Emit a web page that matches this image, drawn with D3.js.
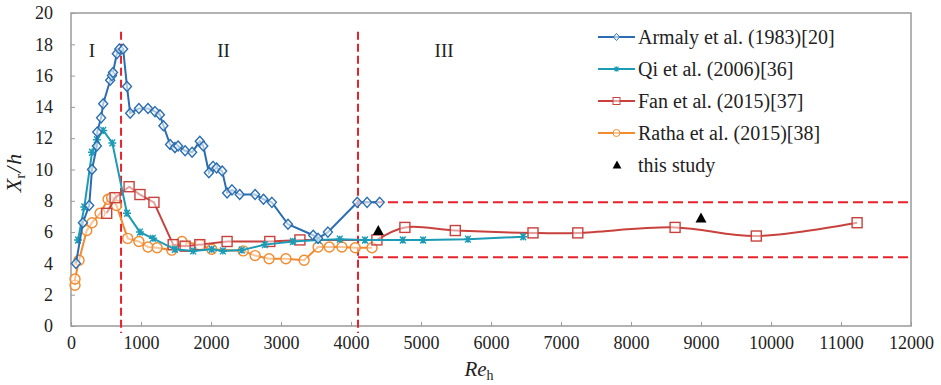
<!DOCTYPE html>
<html>
<head>
<meta charset="utf-8">
<script src="https://cdn.jsdelivr.net/npm/d3@7"></script>
<style>
  body { margin: 0; background: #fff; }
  text { font-family: "Liberation Serif", "Times New Roman", serif; fill: #222; }
</style>
</head>
<body>
<div id="chart"></div>
<script>
// --- data ---
const armalyRe = [71, 170, 260, 300, 370, 375, 430, 460, 560, 585, 600, 655, 690, 745, 800, 845, 970, 1100, 1200, 1270, 1320, 1415, 1485, 1530, 1630, 1730, 1840, 1890, 1970, 2030, 2080, 2160, 2230, 2300, 2410, 2630, 2750, 2870, 3100, 3460, 3530, 3670, 4090, 4230, 4410];
const armalyY = [4.0, 6.6, 7.7, 10.0, 11.5, 12.4, 13.3, 14.2, 15.7, 16.0, 16.2, 17.4, 17.7, 17.7, 15.3, 13.6, 13.9, 13.9, 13.7, 13.5, 12.8, 11.6, 11.4, 11.5, 11.2, 11.1, 11.8, 11.5, 9.8, 10.2, 10.1, 9.9, 8.5, 8.7, 8.4, 8.4, 8.1, 7.9, 6.5, 5.8, 5.6, 6.0, 7.9, 7.9, 7.9];

const qiRe = [100, 190, 300, 370, 460, 590, 800, 985, 1170, 1485, 1745, 2010, 2170, 2440, 2770, 3170, 3530, 3840, 4200, 4740, 5030, 5670, 6460];
const qiY = [5.5, 7.6, 11.1, 11.9, 12.5, 11.7, 7.2, 6.0, 5.6, 4.9, 4.8, 4.9, 4.8, 4.85, 5.2, 5.4, 5.5, 5.55, 5.5, 5.5, 5.5, 5.55, 5.7];

const fanRe = [510, 630, 830, 985, 1185, 1460, 1630, 1840, 2230, 2840, 3270, 4370, 4770, 5490, 6600, 7240, 8630, 9790, 11230];
const fanY = [7.2, 8.2, 8.9, 8.4, 7.9, 5.2, 5.1, 5.2, 5.4, 5.4, 5.5, 5.5, 6.3, 6.1, 5.95, 5.95, 6.3, 5.75, 6.6];

const rathaRe = [57, 57, 115, 225, 300, 415, 530, 580, 650, 810, 970, 1100, 1230, 1440, 1585, 1840, 2010, 2460, 2630, 2830, 3070, 3330, 3530, 3690, 3870, 4060, 4300];
const rathaY = [2.6, 3.0, 4.2, 6.1, 6.6, 7.2, 8.1, 8.2, 7.7, 5.6, 5.4, 5.05, 5.0, 4.85, 5.4, 5.2, 4.9, 4.8, 4.5, 4.3, 4.3, 4.2, 5.05, 5.05, 5.05, 5.0, 5.0];

const studyRe = [4390, 9000];
const studyY = [6.1, 6.9];

const regionBounds = [715, 4100];   // vertical dashed lines
const bandLevels = [7.9, 4.4];      // horizontal dashed lines (Re > 4100)
const regionLabels = ["I", "II", "III"];
const regionLabelRe = [300, 2180, 5330];

const xTicks = d3.range(0, 12001, 1000);
const yTicks = d3.range(0, 21, 2);

const seriesNames = ["Armaly et al. (1983)[20]", "Qi et al. (2006)[36]", "Fan et al. (2015)[37]", "Ratha et al. (2015)[38]", "this study"];
const seriesColors = ["#2a6db0", "#1b9bb5", "#c8413d", "#f28a2e", "#000"];

const zip = (xs, ys) => xs.map((x, i) => ({ x: x, y: ys[i] }));

class ReattachChart {
  constructor(parentElement) {
    this.parentElement = parentElement;
    this.initVis();
  }

  initVis() {
    let vis = this;
    vis.margin = { top: 13, right: 30, bottom: 59, left: 71 };
    vis.width = 941 - vis.margin.left - vis.margin.right;
    vis.height = 385 - vis.margin.top - vis.margin.bottom;

    vis.svg = d3.select("#" + vis.parentElement)
      .append("svg")
      .attr("width", 941)
      .attr("height", 385)
      .append("g")
      .attr("transform", `translate(${vis.margin.left},${vis.margin.top})`);

    vis.x = d3.scaleLinear().domain([0, 12000]).range([0, vis.width]);
    vis.y = d3.scaleLinear().domain([0, 20]).range([vis.height, 0]);

    // frame
    vis.svg.append("rect")
      .attr("width", vis.width)
      .attr("height", vis.height)
      .attr("fill", "none")
      .attr("stroke", "#9a9a9a")
      .attr("stroke-width", 1.5);

    // axes (inward ticks)
    const xAxis = d3.axisBottom(vis.x).tickValues(xTicks).tickSize(-4).tickPadding(10).tickFormat(d3.format("d"));
    const yAxis = d3.axisLeft(vis.y).tickValues(yTicks).tickSize(-4).tickPadding(18);

    vis.svg.append("g")
      .attr("transform", `translate(0,${vis.height})`)
      .call(xAxis)
      .call(g => g.select(".domain").remove())
      .call(g => g.selectAll("line").attr("stroke", "#9a9a9a"))
      .call(g => g.selectAll("text").style("font-size", "18px").style("font-family", "Liberation Serif").attr("fill", "#222"));

    vis.svg.append("g")
      .call(yAxis)
      .call(g => g.select(".domain").remove())
      .call(g => g.selectAll("line").attr("stroke", "#9a9a9a"))
      .call(g => g.selectAll("text").style("font-size", "18px").style("font-family", "Liberation Serif").attr("fill", "#222"));

    // axis titles
    let yl = vis.svg.append("text")
      .attr("transform", `translate(${21 - vis.margin.left},${173 - vis.margin.top}) rotate(-90)`)
      .attr("text-anchor", "middle")
      .style("font-size", "22px")
      .style("font-style", "italic");
    yl.append("tspan").text("X");
    yl.append("tspan").attr("dy", 4).style("font-size", "15px").style("font-style", "normal").text("r");
    yl.append("tspan").attr("dy", -4).attr("dx", 1).text("/");
    yl.append("tspan").attr("dx", 2).text("h");

    let xl = vis.svg.append("text")
      .attr("x", 479 - vis.margin.left)
      .attr("y", 376 - vis.margin.top)
      .attr("text-anchor", "middle")
      .style("font-size", "21px")
      .style("font-style", "italic");
    xl.append("tspan").text("Re");
    xl.append("tspan").attr("dy", 4).style("font-size", "14px").style("font-style", "normal").text("h");

    this.drawGuides();
    this.drawSeries();
    this.drawLegend();
  }

  drawGuides() {
    let vis = this;
    vis.svg.selectAll(".region-line")
      .data(regionBounds)
      .enter().append("line")
      .attr("class", "region-line")
      .attr("x1", d => vis.x(d)).attr("x2", d => vis.x(d))
      .attr("y1", vis.y(18.8)).attr("y2", vis.height + 7)
      .attr("stroke", "#e8212b")
      .attr("stroke-width", 2)
      .attr("stroke-dasharray", "8,4");

    vis.svg.selectAll(".band-line")
      .data(bandLevels)
      .enter().append("line")
      .attr("class", "band-line")
      .attr("x1", vis.x(regionBounds[1])).attr("x2", vis.width)
      .attr("y1", d => vis.y(d)).attr("y2", d => vis.y(d))
      .attr("stroke", "#e8212b")
      .attr("stroke-width", 2)
      .attr("stroke-dasharray", "10,5");

    vis.svg.selectAll(".region-label")
      .data(regionLabels)
      .enter().append("text")
      .attr("class", "region-label")
      .attr("x", (d, i) => vis.x(regionLabelRe[i]))
      .attr("y", vis.y(17.2))
      .attr("text-anchor", "middle")
      .style("font-size", "19px")
      .text(d => d);
  }

  marker(sel, type, color) {
    if (type === "diamond") {
      sel.append("path").attr("d", "M0,-5L4.5,0L0,5L-4.5,0Z")
        .attr("fill", "#fff").attr("fill-opacity", 0.6).attr("stroke", color).attr("stroke-width", 1.4);
    } else if (type === "star") {
      sel.append("path").attr("d", "M-4,0H4M-2.8,-3.5L2.8,3.5M-2.8,3.5L2.8,-3.5M0,-3.5V3.5")
        .attr("fill", "none").attr("stroke", color).attr("stroke-width", 1.5);
    } else if (type === "square") {
      sel.append("rect").attr("x", -5).attr("y", -5).attr("width", 10).attr("height", 10)
        .attr("fill", "#fff").attr("fill-opacity", 0.5).attr("stroke", color).attr("stroke-width", 1.4);
    } else if (type === "circle") {
      sel.append("circle").attr("r", 5)
        .attr("fill", "#fff").attr("fill-opacity", 0.5).attr("stroke", color).attr("stroke-width", 1.4);
    } else if (type === "triangle") {
      sel.append("path").attr("d", "M0,-5.5L5.5,4.5L-5.5,4.5Z").attr("fill", color);
    }
  }

  drawSeries() {
    let vis = this;
    const line = d3.line().x(d => vis.x(d.x)).y(d => vis.y(d.y));
    const smooth = d3.line().curve(d3.curveCatmullRom.alpha(0.5)).x(d => vis.x(d.x)).y(d => vis.y(d.y));

    const fanData = zip(fanRe, fanY);
    const fanSplit = fanRe.indexOf(4370);

    const series = [
      { data: zip(armalyRe, armalyY), color: seriesColors[0], type: "diamond", width: 2 },
      { data: zip(qiRe, qiY), color: seriesColors[1], type: "star", width: 2 },
      { data: fanData, color: seriesColors[2], type: "square", width: 2, split: fanSplit },
      { data: zip(rathaRe, rathaY), color: seriesColors[3], type: "circle", width: 2 }
    ];

    // draw in reverse so Armaly sits on top
    series.slice().reverse().forEach(s => {
      if (s.split !== undefined) {
        vis.svg.append("path").datum(s.data.slice(0, s.split + 1))
          .attr("d", line).attr("fill", "none").attr("stroke", s.color).attr("stroke-width", s.width);
        vis.svg.append("path").datum(s.data.slice(s.split))
          .attr("d", smooth).attr("fill", "none").attr("stroke", s.color).attr("stroke-width", s.width);
      } else {
        vis.svg.append("path").datum(s.data)
          .attr("d", line).attr("fill", "none").attr("stroke", s.color).attr("stroke-width", s.width);
      }
      vis.svg.selectAll(null)
        .data(s.data)
        .enter().append("g")
        .attr("transform", d => `translate(${vis.x(d.x)},${vis.y(d.y)})`)
        .each(function () { vis.marker(d3.select(this), s.type, s.color); });
    });

    vis.svg.selectAll(".study")
      .data(zip(studyRe, studyY))
      .enter().append("g")
      .attr("class", "study")
      .attr("transform", d => `translate(${vis.x(d.x)},${vis.y(d.y)})`)
      .each(function () { vis.marker(d3.select(this), "triangle", "#000"); });
  }

  drawLegend() {
    let vis = this;
    const types = ["diamond", "star", "square", "circle", "triangle"];
    const lg = vis.svg.append("g").attr("transform", `translate(${598 - vis.margin.left},${37 - vis.margin.top})`);
    seriesNames.forEach((name, i) => {
      const row = lg.append("g").attr("transform", `translate(0,${i * 32})`);
      if (i < 4) {
        row.append("line").attr("x1", 0).attr("x2", 37).attr("stroke", seriesColors[i]).attr("stroke-width", 2);
        const m = row.append("g").attr("transform", "translate(18.5,0) scale(0.7)");
        vis.marker(m, types[i], seriesColors[i]);
      } else {
        const m = row.append("g").attr("transform", "translate(19,0) scale(0.8)");
        vis.marker(m, "triangle", "#000");
      }
      row.append("text").attr("x", 40).attr("y", 7).style("font-size", "20px").text(name);
    });
  }
}

new ReattachChart("chart");
</script>
</body>
</html>
